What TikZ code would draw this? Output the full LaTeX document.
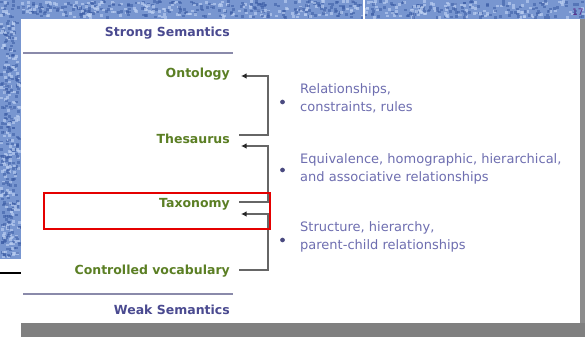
\documentclass[tikz,border=0pt]{standalone}
\usepackage{fontspec}
\setmainfont{DejaVu Sans}
\usetikzlibrary{arrows.meta}
\definecolor{bgblue}{HTML}{7896D0}
\definecolor{bgdark}{HTML}{3A5AA4}
\definecolor{bglight}{HTML}{BCD0F2}
\definecolor{headcol}{HTML}{4A4A90}
\definecolor{greencol}{HTML}{5B7F24}
\definecolor{textcol}{HTML}{6E6EB0}
\definecolor{bulcol}{HTML}{4A4A80}
\definecolor{rulecol}{HTML}{8A8AAA}
\definecolor{brcol}{HTML}{666666}
\definecolor{shadow}{HTML}{808080}
\definecolor{pagenum}{HTML}{5A2A8A}
\tikzset{
  headlbl/.style={anchor=base east, inner sep=0pt, text=headcol, font=\fontsize{12.5}{15}\selectfont\bfseries},
  levellbl/.style={anchor=base east, inner sep=0pt, text=greencol, font=\fontsize{12.5}{15}\selectfont\bfseries},
  desc/.style={anchor=base west, inner sep=0pt, align=left, text=textcol, font=\fontsize{13}{18}\selectfont},
  bul/.style={circle, fill=bulcol, draw=bulcol, line width=0.4pt, inner sep=0pt, minimum size=4.2pt},
  brk/.style={draw=brcol, line width=1.4pt, -{Latex[length=5.5pt,width=5.5pt,color=black!85]}},
  sep/.style={draw=rulecol, line width=1.1pt}
}
\begin{document}
\begin{tikzpicture}[x=1pt,y=1pt]
\useasboundingbox (0,0) rectangle (585,337);
% background
\fill[white] (0,0) rectangle (585,337);
\fill[bgblue] (0,318) rectangle (585,337);
\fill[bgblue] (0,78) rectangle (21,318);
\pgfmathsetseed{7}
\foreach \i in {1,...,650}{
  \pgfmathsetmacro\xx{rnd*582}
  \pgfmathsetmacro\yy{318+rnd*16.5}
  \pgfmathsetmacro\cc{rnd}
  \ifdim\cc pt<0.55pt
    \fill[bgdark,opacity=0.55] (\xx,\yy) rectangle ++(3,2.5);
  \else
    \fill[bglight,opacity=0.65] (\xx,\yy) rectangle ++(3,2.5);
  \fi
}
\foreach \i in {1,...,380}{
  \pgfmathsetmacro\xx{rnd*18}
  \pgfmathsetmacro\yy{78+rnd*237.5}
  \pgfmathsetmacro\cc{rnd}
  \ifdim\cc pt<0.55pt
    \fill[bgdark,opacity=0.55] (\xx,\yy) rectangle ++(3,2.5);
  \else
    \fill[bglight,opacity=0.65] (\xx,\yy) rectangle ++(3,2.5);
  \fi
}
\fill[white] (363,318) rectangle (365,337);
\node[anchor=base west, inner sep=0pt, text=pagenum, font=\fontsize{9}{11}\selectfont] (pg) at (572,321) {17};
% panel and shadow
\fill[white] (21,14) rectangle (580,318);
\fill[shadow] (21,0) rectangle (585,14);
\fill[shadow!90!white] (580,14) rectangle (585,318);
\draw[black, line width=1.2pt] (0,64) -- (21,64);
% headings and rules
\node[headlbl] (strong) at (230,300) {Strong Semantics};
\draw[sep] (23,284) -- (233,284);
\draw[sep] (23,43) -- (233,43);
\node[headlbl] (weak) at (230,23) {Weak Semantics};
% levels
\node[levellbl] (ont) at (230,259) {Ontology};
\node[levellbl] (thes) at (230,193) {Thesaurus};
\node[levellbl] (tax) at (230,129) {Taxonomy};
\node[levellbl] (cv) at (230,63) {Controlled vocabulary};
% brackets
\draw[brk] ([xshift=9pt,yshift=9pt]thes.base east) -| ([xshift=38pt,yshift=2pt]ont.base east) -- ([xshift=11pt,yshift=2pt]ont.base east);
\draw[brk] ([xshift=9pt,yshift=6pt]tax.base east) -| ([xshift=38pt,yshift=-2pt]thes.base east) -- ([xshift=11pt,yshift=-2pt]thes.base east);
\draw[brk] ([xshift=9pt,yshift=4pt]cv.base east) -| ([xshift=38pt,yshift=-6pt]tax.base east) -- ([xshift=11pt,yshift=-6pt]tax.base east);
% bullets and descriptions
\node[bul] (b1) at (282.5,235) {};
\node[bul] (b2) at (282.5,167) {};
\node[bul] (b3) at (282.5,97) {};
\node[desc] (d1) at (300,225) {Relationships,\\constraints, rules};
\node[desc] (d2) at (300,155) {Equivalence, homographic, hierarchical,\\and associative relationships};
\node[desc] (d3) at (300,87) {Structure, hierarchy,\\parent-child relationships};
% highlight
\draw[red!90!black, line width=1.2pt] (44,108) rectangle (270,144);
\end{tikzpicture}
\end{document}
